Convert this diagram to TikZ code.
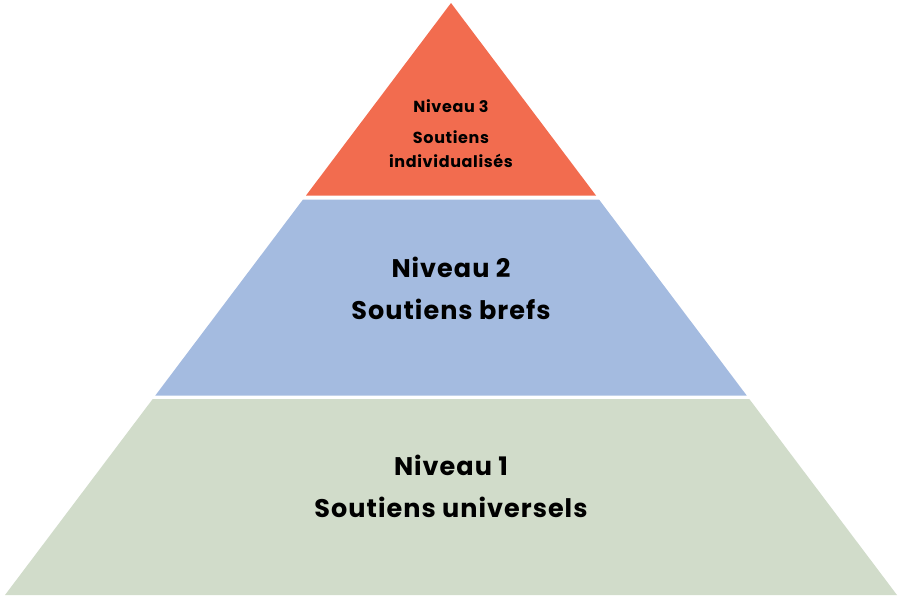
\documentclass[tikz,border=0pt]{standalone}
\usepackage{fontspec}
\setmainfont{Poppins}[LetterSpace=4]
\definecolor{niv1col}{HTML}{D1DCCA}
\definecolor{niv2col}{HTML}{A4BBE0}
\definecolor{niv3col}{HTML}{F26C4F}

\begin{document}
\begin{tikzpicture}[x=1pt,y=-1pt,every text node part/.style={align=center},
  bigtext/.style={font=\bfseries\fontsize{25.5}{42}\selectfont,anchor=base},
  smalltext/.style={font=\bfseries\fontsize{16}{24}\selectfont,anchor=base}]
  \useasboundingbox (0,0) rectangle (902,598);

  \fill[niv3col] (451,3) -- (596,195.5) -- (306,195.5) -- cycle;
  \fill[niv2col] (303,199.5) -- (599,199.5) -- (746.7,395.5) -- (155.3,395.5) -- cycle;
  \fill[niv1col] (152.7,399) -- (749.3,399) -- (897,595) -- (5,595) -- cycle;

  \node[smalltext] (niv3) at (451,167) {Niveau 3\\[7pt] Soutiens\\ individualisés};
  \node[bigtext] (niv2) at (451,319) {Niveau 2\\ Soutiens brefs};
  \node[bigtext] (niv1) at (451,517) {Niveau 1\\ Soutiens universels};
\end{tikzpicture}
\end{document}
